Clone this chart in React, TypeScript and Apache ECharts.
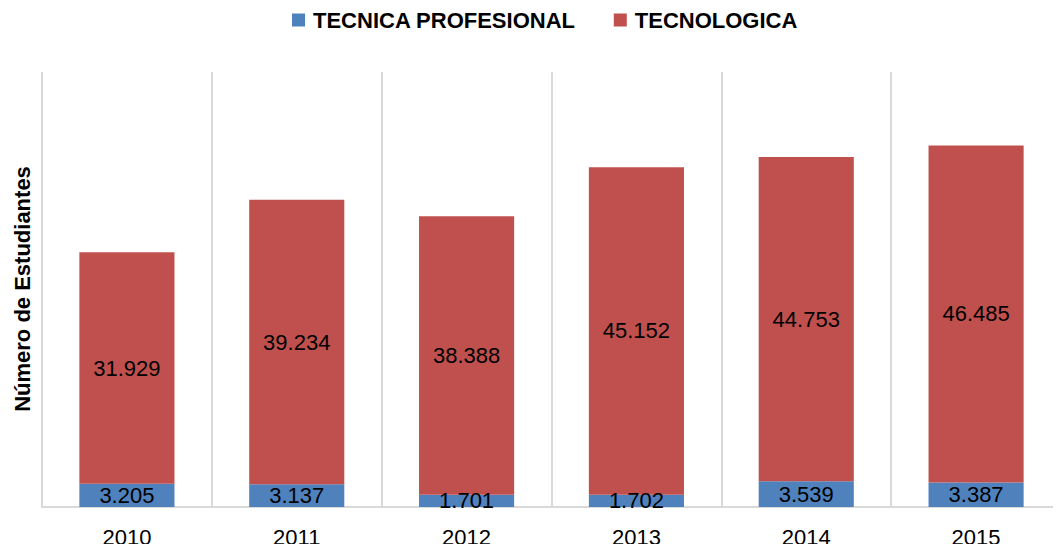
import React, { useEffect, useRef } from "react";
import * as echarts from "echarts";

const categories = ["2010", "2011", "2012", "2013", "2014", "2015"];
const tecnicaProfesional = [3205, 3137, 1701, 1702, 3539, 3387];
const tecnologica = [31929, 39234, 38388, 45152, 44753, 46485];
const seriesNames = ["TECNICA PROFESIONAL", "TECNOLOGICA"];

const FONT = "'Liberation Sans', Arial, sans-serif";

const fmt = (v: number) => {
  const s = String(Math.round(v));
  return s.replace(/\B(?=(\d{3})+(?!\d))/g, ".");
};

export default function App() {
  const ref = useRef<HTMLDivElement>(null);
  useEffect(() => {
    if (!ref.current) return;
    const chart = echarts.init(ref.current, null, { renderer: "svg" });
    const label = {
      show: true,
      position: "inside" as const,
      color: "#000",
      fontFamily: FONT,
      fontSize: 22,
      formatter: (p: any) => fmt(p.value),
    };
    chart.setOption({
      animation: false,
      backgroundColor: "#fff",
      legend: {
        top: 4,
        left: 287,
        itemWidth: 13,
        itemHeight: 13,
        itemGap: 38,
        icon: "rect",
        textStyle: {
          fontFamily: FONT,
          fontWeight: "bold",
          fontSize: 22,
          color: "#000",
          padding: [0, 0, 0, 3],
        },
        data: seriesNames,
      },
      grid: { left: 42, right: -1, top: 72, bottom: 45 },
      xAxis: {
        type: "category",
        data: categories,
        axisLine: { lineStyle: { color: "#d9d9d9", width: 2 } },
        axisTick: { show: false },
        splitLine: { show: true, lineStyle: { color: "#d9d9d9", width: 2 } },
        axisLabel: { color: "#000", fontFamily: FONT, fontSize: 22, margin: 19 },
      },
      yAxis: { type: "value", min: 0, max: 60000, show: false },
      graphic: [
        {
          type: "text",
          x: 22,
          y: 289,
          rotation: Math.PI / 2,
          style: {
            text: "Número de Estudiantes",
            fontFamily: FONT,
            fontWeight: "bold",
            fontSize: 22,
            fill: "#000",
            align: "center",
            verticalAlign: "middle",
          },
        },
      ],
      series: [
        {
          name: seriesNames[0],
          type: "bar",
          stack: "total",
          data: tecnicaProfesional,
          barCategoryGap: "44%",
          itemStyle: { color: "#4F81BD" },
          label,
        },
        {
          name: seriesNames[1],
          type: "bar",
          stack: "total",
          data: tecnologica,
          barCategoryGap: "44%",
          itemStyle: { color: "#C0504D" },
          label,
        },
      ],
    });
    return () => chart.dispose();
  }, []);
  return <div ref={ref} style={{ width: 1061, height: 552, margin: -8 }} />;
}
